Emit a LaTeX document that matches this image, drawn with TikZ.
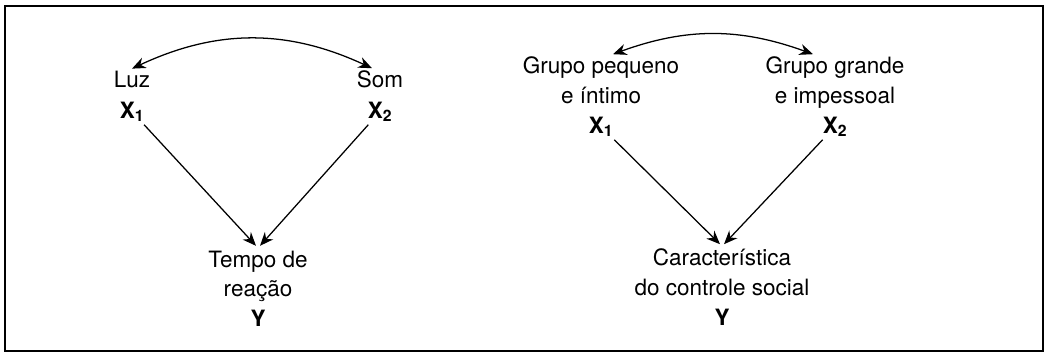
\documentclass[tikz,border=0pt]{standalone}
\usepackage{fontspec}
\setmainfont{TeX Gyre Heros}
\usetikzlibrary{arrows.meta,positioning}

\begin{document}
\begin{tikzpicture}[
	word node/.style={align=center, font=\fontsize{16}{21}\selectfont},
	var node/.style={anchor=base, font=\fontsize{16}{21}\selectfont\bfseries, inner sep=2pt},
	cause/.style={line width=0.9pt, -{Stealth[length=0.34cm, width=0.28cm]}},
	bond/.style={line width=0.9pt, {Stealth[length=0.34cm, width=0.28cm]}-{Stealth[length=0.34cm, width=0.28cm]}}]
	\useasboundingbox (0,0) rectangle (26.125,8.825);
	% Frame
	\draw[line width=1pt] (0.125,0.05) rectangle (26.075,8.675);

	% Left diagram: Luz, Som
	\node[word node, anchor=base] (luz) at (3.3,6.625) {Luz};
	\node[var node] (lx1) at (3.3,5.875) {X\textsubscript{1}};
	\node[word node, anchor=base] (som) at (9.5,6.625) {Som};
	\node[var node] (lx2) at (9.5,5.875) {X\textsubscript{2}};
	\node[word node, anchor=north] (tempo) at (6.45,2.68) {Tempo de\\rea\c{c}\~ao\\\textbf{Y}};

	% Right diagram: groups
	\node[word node, anchor=north] (pequeno) at (15.025,7.52) {Grupo pequeno\\e \'{\i}ntimo};
	\node[var node] (rx1) at (15.025,5.5) {X\textsubscript{1}};
	\node[word node, anchor=north] (grande) at (20.875,7.52) {Grupo grande\\e impessoal};
	\node[var node] (rx2) at (20.875,5.5) {X\textsubscript{2}};
	\node[word node, anchor=north] (controle) at (18.05,2.72) {Caracter\'{\i}stica\\do controle social\\\textbf{Y}};

	% Arrows
	\draw[cause] (lx1) -- ([xshift=-0.05cm]tempo.north);
	\draw[cause] (lx2) -- ([xshift=0.05cm]tempo.north);
	\draw[cause] (rx1) -- ([xshift=-0.05cm]controle.north);
	\draw[cause] (rx2) -- ([xshift=0.05cm]controle.north);

	% Correlation
	\draw[bond] ([yshift=-0.05cm]luz.north) to[bend left=25] ([xshift=-0.2cm,yshift=-0.05cm]som.north);
	\draw[bond] ([xshift=0.3cm,yshift=-0.05cm]pequeno.north) to[bend left=20] ([xshift=-0.55cm,yshift=-0.05cm]grande.north);
\end{tikzpicture}
\end{document}
